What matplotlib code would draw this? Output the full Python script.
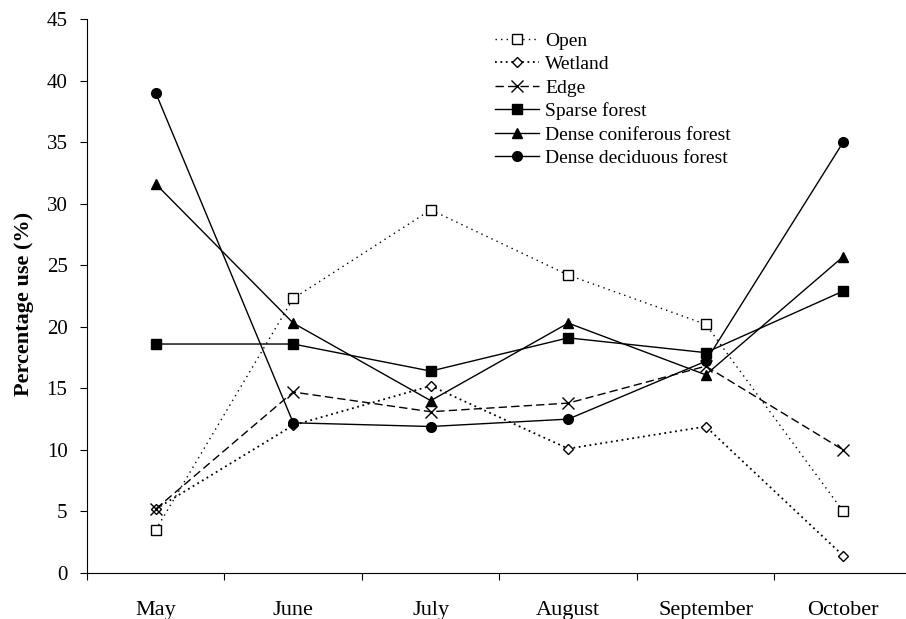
import numpy as np
import matplotlib.pyplot as plt

plt.rcParams['font.family'] = ['Liberation Serif', 'DejaVu Serif']

months = ['May', 'June', 'July', 'August', 'September', 'October']

open_use = [3.5, 22.3, 29.5, 24.2, 20.2, 5.0]
wetland = [5.2, 12.0, 15.2, 10.1, 11.9, 1.4]
edge = [5.2, 14.7, 13.1, 13.8, 16.8, 10.0]
sparse = [18.6, 18.6, 16.4, 19.1, 17.9, 22.9]
coniferous = [31.6, 20.3, 14.0, 20.3, 16.1, 25.7]
deciduous = [39.0, 12.2, 11.9, 12.5, 17.2, 35.0]

x = np.arange(len(months))

fig = plt.figure(figsize=(9.06, 6.19), dpi=100)
ax = fig.add_axes([0.096, 0.0743, 0.9106, 0.895])

ax.plot(x, open_use, ls=(0, (1, 3)), lw=1, color='k', marker='s', ms=7,
        mfc='white', mec='k', mew=1, label='Open')
ax.plot(x, wetland, ls=(0, (1, 2)), lw=1.3, color='k', marker='D', ms=5.5,
        mfc='white', mec='k', mew=1, label='Wetland')
ax.plot(x, edge, ls=(0, (6, 3)), lw=1, color='k', marker='x', ms=8,
        mew=1, label='Edge')
ax.plot(x, sparse, ls='-', lw=1, color='k', marker='s', ms=7, label='Sparse forest')
ax.plot(x, coniferous, ls='-', lw=1, color='k', marker='^', ms=7,
        label='Dense coniferous forest')
ax.plot(x, deciduous, ls='-', lw=1, color='k', marker='o', ms=7,
        label='Dense deciduous forest')

ax.set_xlim(-0.5, 5.5)
ax.set_ylim(0, 45)
ax.set_yticks(np.arange(0, 46, 5))
# month names sit between the tick marks
ax.set_xticks(np.arange(-0.5, 5.6, 1))
ax.set_xticklabels([])
ax.set_xticks(x, minor=True)
ax.set_xticklabels(months, minor=True)
ax.tick_params(axis='x', which='minor', length=0, pad=20, labelsize=16)
ax.tick_params(axis='x', which='major', length=5, direction='out')
ax.tick_params(axis='y', length=5, direction='out', labelsize=15, pad=9)

ax.spines['top'].set_visible(False)
ax.spines['right'].set_visible(False)

ax.set_ylabel('Percentage use (%)', fontsize=16, fontweight='bold')
ax.yaxis.set_label_coords(-0.0645, 0.486)

ax.legend(loc='upper left', bbox_to_anchor=(0.473, 1.008), frameon=False,
          fontsize=14, handlelength=2.3, labelspacing=0.3, handletextpad=0.3)

fig.savefig('out.png', dpi=100)
